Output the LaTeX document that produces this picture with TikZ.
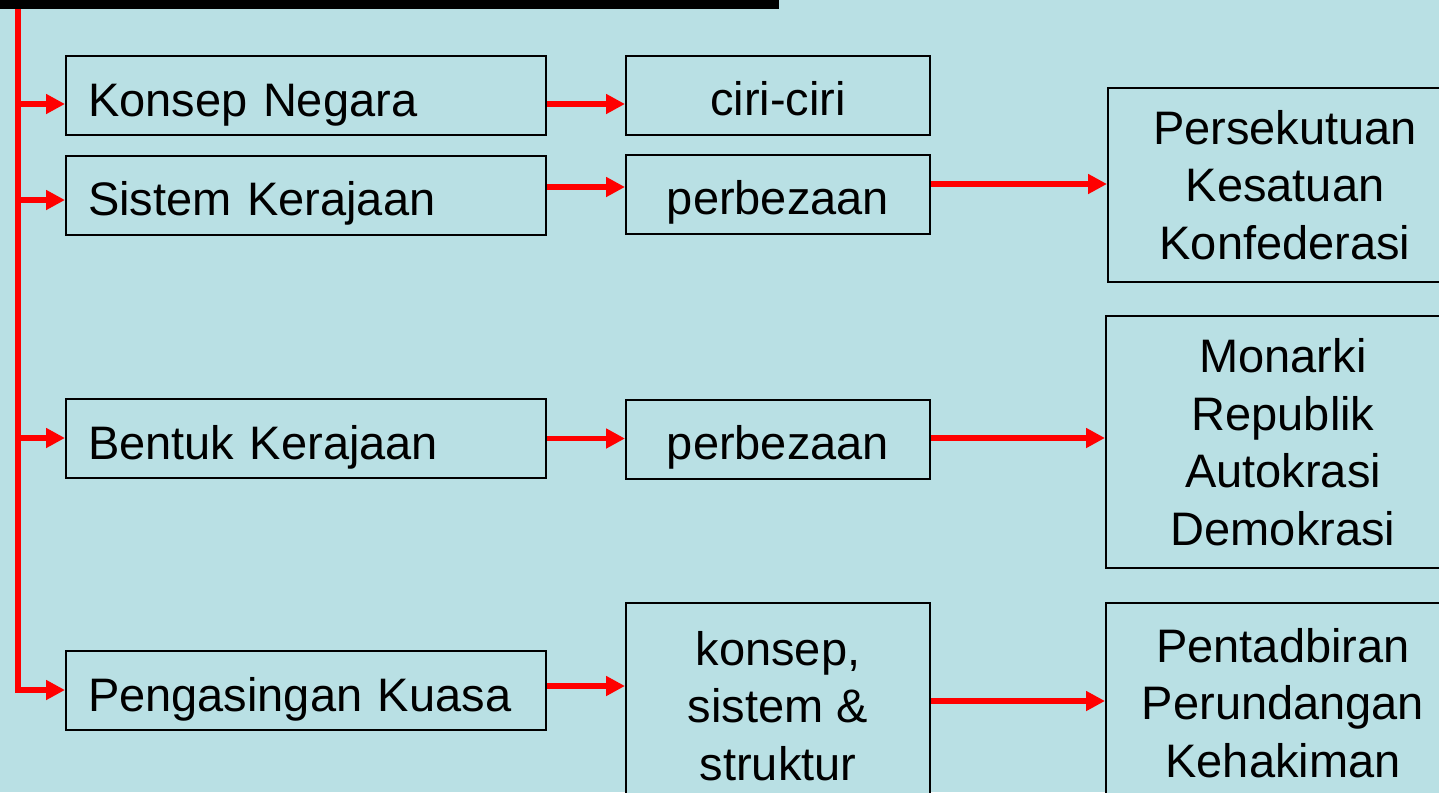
\documentclass[tikz,border=0pt]{standalone}
\usepackage{fontspec}
\setmainfont{Liberation Sans}
\usetikzlibrary{arrows.meta}
\definecolor{bg}{RGB}{185,224,228}
\definecolor{redline}{RGB}{255,0,0}
\tikzset{
  box/.style={draw=black, line width=2pt, fill=bg, inner sep=0pt, font=\fontsize{47}{57.5}\selectfont, align=center},
  leftbox/.style={box, minimum width=480pt, minimum height=79pt, text width=436pt, align=left, text height=41pt, text depth=0pt},
  midbox/.style={box, minimum width=304pt, minimum height=79pt, text height=40pt, text depth=0pt},
  conn/.style={draw=redline, line width=5.5pt, -{Triangle[length=19pt,width=19pt]}},
  spine/.style={draw=redline, line width=5.5pt}
}
\begin{document}
\begin{tikzpicture}[x=1pt,y=-1pt]
\useasboundingbox (0,0) rectangle (1439,792);
\clip (0,0) rectangle (1439,792);
\fill[bg] (0,0) rectangle (1439,792);
\fill[black] (0,0) rectangle (779,9);
% left column
\node[leftbox] (kn) at (306,95.5) {Konsep Negara};
\node[leftbox] (sk) at (306,195) {Sistem Kerajaan};
\node[leftbox] (bk) at (306,438.5) {Bentuk Kerajaan};
\node[leftbox] (pk) at (306,690.5) {Pengasingan Kuasa};
% middle column
\node[midbox] (cc) at (778,95.5) {ciri-ciri};
\node[midbox] (pb1) at (778,194.5) {perbezaan};
\node[midbox] (pb2) at (778,439) {perbezaan};
\node[box, minimum width=304pt, minimum height=206pt] (kss) at (778,706) {konsep,\\sistem \&\\struktur};
% right column
\node[box, minimum width=354pt, minimum height=194pt] (pkk) at (1285,185) {Persekutuan\\Kesatuan\\Konfederasi};
\node[box, minimum width=354pt, minimum height=252pt] (mrad) at (1283,442) {Monarki\\Republik\\Autokrasi\\Demokrasi};
\node[box, minimum width=354pt, minimum height=200pt] (ppk) at (1283,703) {Pentadbiran\\Perundangan\\Kehakiman};
% spine
\coordinate (top) at (18,9);
\coordinate (bot) at (18,690);
\draw[spine] (top) -- ([yshift=2.75pt]bot);
\draw[conn] ([xshift=-2.75pt]bot) -- (pk.west |- bot);
\draw[conn] (top |- 0,104) -- (kn.west |- 0,104);
\draw[conn] (top |- 0,200) -- (sk.west |- 0,200);
\draw[conn] (top |- 0,438) -- (bk.west |- 0,438);
% to middle
\draw[conn] (kn.east |- 0,104) -- (cc.west |- 0,104);
\draw[conn] (sk.east |- 0,187) -- (pb1.west |- 0,187);
\draw[conn] (bk.east) -- (pb2.west |- bk.east);
\draw[conn] (pk.east |- 0,686) -- (kss.west |- 0,686);
% to right
\draw[conn] (pb1.east |- 0,184) -- (pkk.west |- 0,184);
\draw[conn] (pb2.east |- 0,438) -- (mrad.west |- 0,438);
\draw[conn] (kss.east |- 0,701) -- (ppk.west |- 0,701);
\end{tikzpicture}
\end{document}
